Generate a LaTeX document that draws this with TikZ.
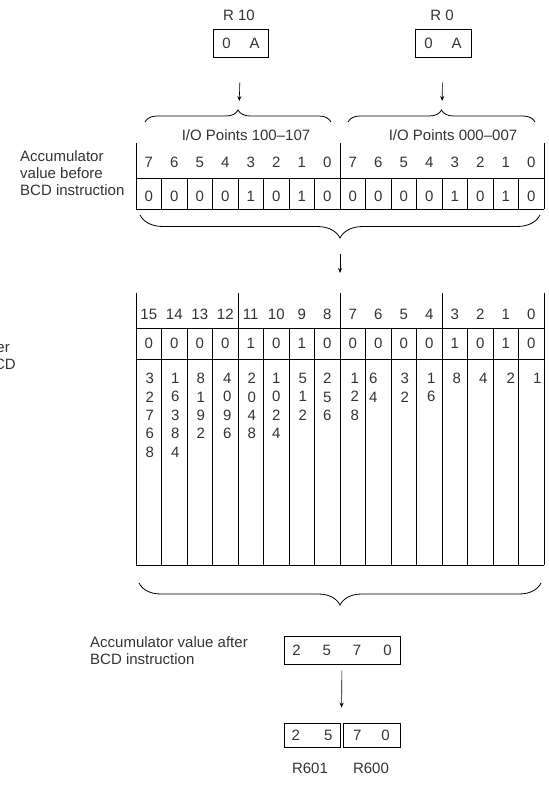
\documentclass[tikz,border=0pt]{standalone}
\usepackage{fontspec}
\setmainfont{Liberation Sans}
\usepackage{tikz}
\usetikzlibrary{arrows.meta, positioning, decorations.pathreplacing, calc}

\begin{document}
\begin{tikzpicture}[
  x=1pt, y=-1pt,
  font=\fontsize{15}{18}\selectfont, text=black!80,
  reg/.style={rectangle, draw=black, line width=0.8pt, minimum height=26pt,
              inner sep=0pt, align=center},
  txtblk/.style={inner sep=0pt, align=left},
  bit/.style={inner sep=0pt},
  wgt/.style={inner sep=0pt, anchor=north, align=center,
              font=\fontsize{15}{18.4}\selectfont},
  grid/.style={line width=0.8pt},
  brc/.style={decorate, decoration={brace, amplitude=#1}, line width=0.8pt},
  arr/.style={-{Stealth[length=5pt, width=4pt]}, line width=0.6pt}
]
\useasboundingbox (0,0) rectangle (548,791);
%% source registers
\node (r10_lbl) at (239,15) {R 10};
\node[reg, minimum width=55pt, minimum height=28pt] (r10_box) at (241,43) {0\hspace{19pt}A};
\node (r0_lbl)  at (442,15) {R 0};
\node[reg, minimum width=56pt, minimum height=28pt] (r0_box)  at (443,43) {0\hspace{19pt}A};
%% braces over the two bytes
\draw[brc=12] (145,122) -- (331,122);
\draw[brc=12] (348,122) -- (535,122);
\coordinate (brc_l_tip) at (239,110);
\coordinate (brc_r_tip) at (442,110);
\draw[arr, shorten <=25pt, shorten >=9pt] (r10_box) -- (brc_l_tip);
\draw[arr, shorten <=25pt, shorten >=9pt] (r0_box)  -- (brc_r_tip);
%% upper table (I/O points)
\node (io_hi) at (246,135) {I/O Points 100--107};
\node (io_lo) at (453,135) {I/O Points 000--007};
\draw[grid] (136,143) -- (136,209) (340,143) -- (340,209) (544,143) -- (544,209);
\draw[grid] (136,178) -- (544,178) (136,209) -- (544,209);
\foreach \i in {1,...,15} \draw[grid] (136+25.5*\i,178) -- (136+25.5*\i,209);
\foreach \i in {0,...,15} {
  \pgfmathtruncatemacro{\b}{7-mod(\i,8)}
  \node[bit] (u_hd\i) at (148.75+25.5*\i,162) {\b};
}
\foreach \v [count=\i from 0] in {0,0,0,0,1,0,1,0,0,0,0,0,1,0,1,0}
  \node[bit] (u_v\i) at (148.75+25.5*\i,196) {\v};
\node[txtblk, anchor=west, font=\fontsize{15}{17}\selectfont] (acc_before) at (20,173)
  {Accumulator\\value before\\BCD instruction};
%% brace + arrow down to the 16 bit table
\draw[brc=23] (540,215) -- (140,215);
\coordinate (brc_u_tip) at (340,238);
\coordinate (l_top) at (340,293);
\draw[arr, shorten <=16pt, shorten >=20pt] (brc_u_tip) -- (l_top);
%% lower table (bit weights)
\draw[grid] foreach \g in {0,...,4} {(136+102*\g,293) -- (136+102*\g,565)};
\foreach \i in {1,...,15} \draw[grid] (136+25.5*\i,328) -- (136+25.5*\i,565);
\draw[grid] (136,328) -- (544,328) (136,359) -- (544,359) (136,565) -- (544,565);
\foreach \i in {0,...,15} {
  \pgfmathtruncatemacro{\b}{15-\i}
  \node[bit] (l_hd\i) at (148.75+25.5*\i,314) {\b};
}
\foreach \v [count=\i from 0] in {0,0,0,0,1,0,1,0,0,0,0,0,1,0,1,0}
  \node[bit] (l_v\i) at (148.75+25.5*\i,343) {\v};
\foreach \w/\dx [count=\i from 0] in {3\\2\\7\\6\\8/1, 1\\6\\3\\8\\4/1, 8\\1\\9\\2/1,
    4\\0\\9\\6/2, 2\\0\\4\\8/1, 1\\0\\2\\4/0, 5\\1\\2/1, 2\\5\\6/0, 1\\2\\8/2,
    6\\4/-5, 3\\2/1, 1\\6/2, 8/2, 4/3, 2/5, 1/6}
  \node[wgt] (w\i) at (148.75+25.5*\i+\dx,373) {\w};
%% cut off label at the left edge
\node[bit, anchor=east] (acc_cut_a) at (10,347) {after};
\node[bit, anchor=east] (acc_cut_b) at (16,364) {BCD};
%% brace under the lower table
\draw[brc=22] (541,583) -- (139,583);
%% result
\node[txtblk, anchor=west, font=\fontsize{15}{17}\selectfont] (acc_after) at (90,651)
  {Accumulator value after\\BCD instruction};
\node[reg, minimum width=116pt, minimum height=28pt] (acc_box) at (342,650)
  {2\hspace{22pt}5\hspace{22pt}7\hspace{22pt}0};
\node[reg, minimum width=56pt, minimum height=24pt] (r601_box) at (312,735) {2\hspace{24pt}5};
\node[reg, minimum width=57pt, minimum height=24pt] (r600_box) at (371.5,735) {7\hspace{20pt}0};
\node (r601_lbl) at (310,768) {R601};
\node (r600_lbl) at (371,768) {R600};
\coordinate (split) at ($(r601_box.north east)!0.5!(r600_box.north west)$);
\draw[arr, shorten <=6pt, shorten >=15pt] (acc_box) -- (split);
\end{tikzpicture}
\end{document}
